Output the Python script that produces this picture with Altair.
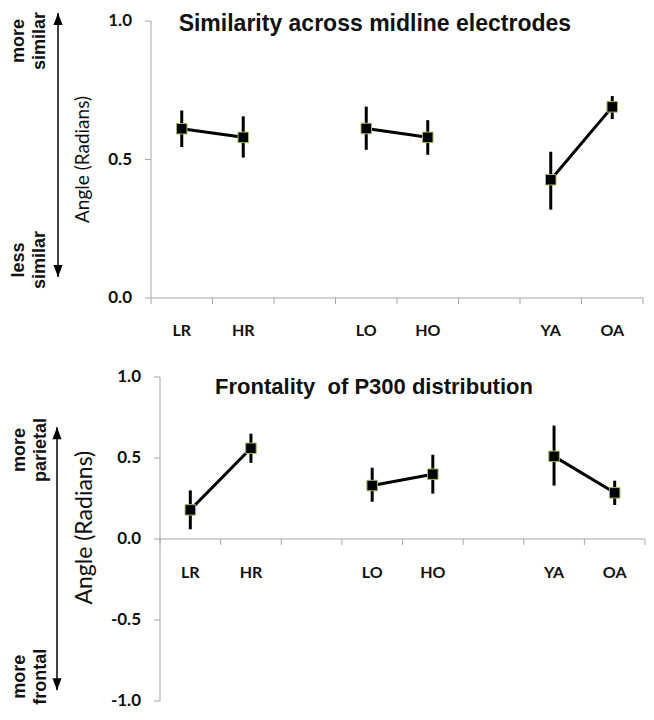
import altair as alt
import pandas as pd

# ---- data ----
categories = ["LR", "HR", "LO", "HO", "YA", "OA"]

sim_mean = [0.611, 0.580, 0.612, 0.580, 0.427, 0.690]
sim_lo = [0.545, 0.507, 0.535, 0.517, 0.319, 0.646]
sim_hi = [0.677, 0.656, 0.691, 0.642, 0.528, 0.729]

front_mean = [0.18, 0.56, 0.33, 0.40, 0.51, 0.285]
front_lo = [0.06, 0.47, 0.23, 0.28, 0.33, 0.21]
front_hi = [0.30, 0.65, 0.44, 0.52, 0.70, 0.36]

top_ticks = [0.0, 0.5, 1.0]
bottom_ticks = [-1.0, -0.5, 0.0, 0.5, 1.0]
slot_bounds = list(range(9))

W, H = 638, 702
GRAY = "#a6a6a6"
INK = "#111111"
ARIAL = "Liberation Sans"
CAL = "Lato"


def slot(i):
    # pairs of groups separated by an empty slot
    return 3 * (i // 2) + (i % 2) + 0.5


def make_df(mean, lo, hi):
    return pd.DataFrame({
        "cat": categories,
        "pos": [slot(i) for i in range(len(categories))],
        "pair": [i // 2 for i in range(len(categories))],
        "mean": mean,
        "lo": lo,
        "hi": hi,
    })


one = pd.DataFrame({"k": [0]})


def panel(df, xr, yd, yr, ticks, title, title_u, title_v, title_size,
          ytitle_u, ytitle_v, ytitle_size, arrow_u, arrow_v1, arrow_v2,
          up_text, up_u, up_v, dn_text, dn_u, dn_v, lab_dy):
    xs = alt.Scale(domain=[0, 8], range=xr, nice=False, zero=False)
    ys = alt.Scale(domain=yd, range=yr, nice=False, zero=False)

    def X(u):
        return alt.XDatum(u, type="quantitative", scale=xs, axis=None)

    def Y(v):
        return alt.YDatum(v, type="quantitative", scale=ys, axis=None)

    def XF(f):
        return alt.X(f, type="quantitative", scale=xs, axis=None)

    def YF(f):
        return alt.Y(f, type="quantitative", scale=ys, axis=None)

    tick_df = pd.DataFrame({"t": ticks, "lab": [f"{t:.1f}" for t in ticks]})
    slot_df = pd.DataFrame({"s": slot_bounds})

    # axes drawn with marks
    ydom = alt.Chart(one).mark_rule(color=GRAY, strokeWidth=1).encode(
        x=X(0), y=Y(yd[0]), y2=alt.Y2Datum(yd[1]))
    yticks = alt.Chart(tick_df).mark_rule(color=GRAY, strokeWidth=1, x2Offset=-6).encode(
        x=X(0), x2=alt.X2Datum(0), y=YF("t"))
    ylabs = alt.Chart(tick_df).mark_text(align="right", baseline="middle", dx=-19,
                                         font=CAL, fontWeight="bold", fontSize=17,
                                         color=INK).encode(
        x=X(0), y=YF("t"), text="lab:N")
    xdom = alt.Chart(one).mark_rule(color=GRAY, strokeWidth=1).encode(
        x=X(0), x2=alt.X2Datum(8), y=Y(0))
    xticks = alt.Chart(slot_df).mark_rule(color=GRAY, strokeWidth=1, y2Offset=6).encode(
        x=XF("s"), y=Y(0), y2=alt.Y2Datum(0))

    base = alt.Chart(df)
    bars = base.mark_rule(strokeWidth=3, color="black").encode(
        x=XF("pos"), y=YF("lo"), y2="hi:Q")
    lines = base.mark_line(strokeWidth=3, color="black").encode(
        x=XF("pos"), y=YF("mean"), detail="pair:N")
    pts = base.mark_square(size=110, filled=True, fill="black", stroke="#9bbb59",
                           strokeWidth=1, opacity=1).encode(x=XF("pos"), y=YF("mean"))
    labs = base.mark_text(dy=lab_dy, font=CAL, fontWeight="bold", fontSize=16,
                          color=INK, baseline="middle").encode(
        x=XF("pos"), y=Y(0), text="cat:N")
    ttl = alt.Chart(one).mark_text(text=title, font=ARIAL, fontWeight="bold",
                                   fontSize=title_size, color=INK,
                                   align="center", baseline="alphabetic").encode(
        x=X(title_u), y=Y(title_v))
    ytl = alt.Chart(one).mark_text(text="Angle (Radians)", font=CAL, fontSize=ytitle_size,
                                   color=INK, angle=270, align="center",
                                   baseline="middle").encode(
        x=X(ytitle_u), y=Y(ytitle_v))
    arrow = alt.Chart(one).mark_rule(strokeWidth=1.5, color="black").encode(
        x=X(arrow_u), y=Y(arrow_v1), y2=alt.Y2Datum(arrow_v2))
    head_up = alt.Chart(one).mark_point(shape="M0,0L-0.38,1L0.38,1Z", size=576,
                                        filled=True, fill="black", opacity=1,
                                        strokeWidth=0).encode(
        x=X(arrow_u), y=Y(arrow_v1))
    head_dn = alt.Chart(one).mark_point(shape="M0,0L-0.38,-1L0.38,-1Z", size=576,
                                        filled=True, fill="black", opacity=1,
                                        strokeWidth=0).encode(
        x=X(arrow_u), y=Y(arrow_v2))
    up = alt.Chart(one).mark_text(text=up_text, font=ARIAL, fontWeight="bold",
                                  fontSize=18, lineHeight=21, angle=270,
                                  align="center", baseline="middle",
                                  color=INK).encode(x=X(up_u), y=Y(up_v))
    dn = alt.Chart(one).mark_text(text=dn_text, font=ARIAL, fontWeight="bold",
                                  fontSize=18, lineHeight=21, angle=270,
                                  align="center", baseline="middle",
                                  color=INK).encode(x=X(dn_u), y=Y(dn_v))
    return alt.layer(ydom, yticks, ylabs, xdom, xticks, bars, lines, pts, labs,
                     ttl, ytl, arrow, head_up, head_dn, up, dn)


top = panel(make_df(sim_mean, sim_lo, sim_hi), xr=[143, 635], yd=[0, 1], yr=[290, 13],
            ticks=top_ticks,
            title="Similarity across midline electrodes", title_u=3.64, title_v=0.964,
            title_size=23, ytitle_u=-1.106, ytitle_v=0.5, ytitle_size=19,
            arrow_u=-1.512, arrow_v1=1.029, arrow_v2=0.076,
            up_text=["more", "similar"], up_u=-2.146, up_v=0.928,
            dn_text=["less", "similar"], dn_u=-2.146, dn_v=0.137, lab_dy=33)

bottom = panel(make_df(front_mean, front_lo, front_hi), xr=[152, 637], yd=[-1, 1],
               yr=[693, 369], ticks=bottom_ticks,
               title="Frontality\u00a0 of P300 distribution", title_u=3.53, title_v=0.897,
               title_size=22, ytitle_u=-1.237, ytitle_v=0.07, ytitle_size=23,
               arrow_u=-1.699, arrow_v1=0.69, arrow_v2=-0.933,
               up_text=["more", "parietal"], up_u=-2.31, up_v=0.55,
               dn_text=["more", "frontal"], dn_u=-2.31, dn_v=-0.85, lab_dy=34)

chart = alt.layer(top, bottom).resolve_scale(
    x="independent", y="independent"
).properties(
    width=W, height=H, padding=0,
    autosize=alt.AutoSizeParams(type="none"),
).configure_view(stroke=None)

chart.save("out.html", embed_options={"renderer": "svg", "actions": False})
